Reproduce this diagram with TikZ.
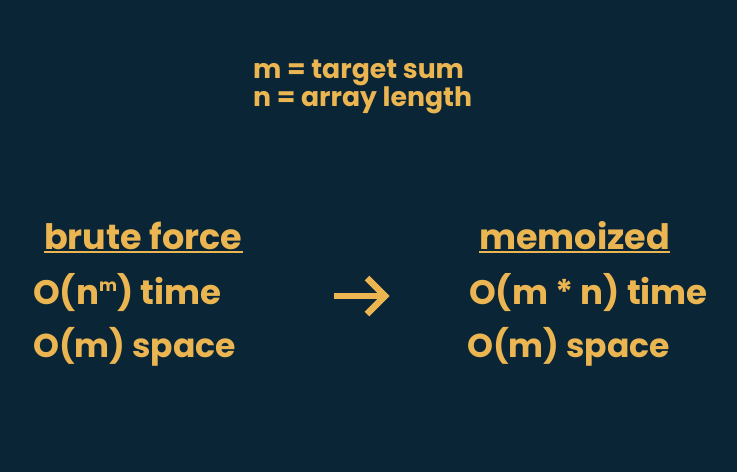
\documentclass[tikz,border=0pt]{standalone}
\usepackage{fontspec}
\setmainfont{Poppins}[UprightFont=* SemiBold, BoldFont=* Bold, Contextuals=NoAlternate, Ligatures=NoCommon]
\definecolor{bgnavy}{HTML}{0A2535}
\definecolor{gold}{HTML}{EBB552}
\newcommand{\supm}{\raisebox{13pt}{\fontsize{17}{17}\selectfont m}}
\begin{document}
\begin{tikzpicture}[x=1pt,y=-1pt,
  txt/.style={anchor=base west,inner sep=0pt,text=gold,font=\bfseries\fontsize{#1}{#1}\selectfont},
  txt/.default=35,
  rule/.style={draw=gold,line width=1.8pt},
  arrowstroke/.style={draw=gold,line width=6.5pt,line cap=butt,line join=miter}]
  % background
  \fill[bgnavy] (0,0) rectangle (737,472);
  \useasboundingbox (0,0) rectangle (737,472);

  % definitions
  \node[txt=26.7] (defm) at (253,78) {m = target sum};
  \node[txt=26.7] (defn) at (253,106) {n = array length};

  % brute force column
  \node[txt] (bf) at (44,249) {brute force};
  \draw[rule] ([yshift=-3pt]bf.base west) -- ([yshift=-3pt]bf.base east);
  \node[txt=34] (bftime) at (33,304) {O(n\supm) time};
  \node[txt=33] (bfspace) at (33,357) {O(m) space};

  % memoized column
  \node[txt] (memo) at (479,249) {memoized};
  \draw[rule] ([yshift=-3pt]memo.base west) -- ([yshift=-3pt]memo.base east);
  \node[txt=34] (memotime) at (469,304) {O(m * n) time};
  \node[txt=33] (memospace) at (467,357) {O(m) space};

  % arrow between the two columns
  \coordinate (arrfrom) at (334,296);
  \coordinate (arrto) at (385,296);
  \draw[arrowstroke] (arrfrom) -- (arrto);
  \draw[arrowstroke] ([xshift=-18pt,yshift=-18pt]arrto) -- (arrto) -- ([xshift=-18pt,yshift=18pt]arrto);
\end{tikzpicture}
\end{document}
